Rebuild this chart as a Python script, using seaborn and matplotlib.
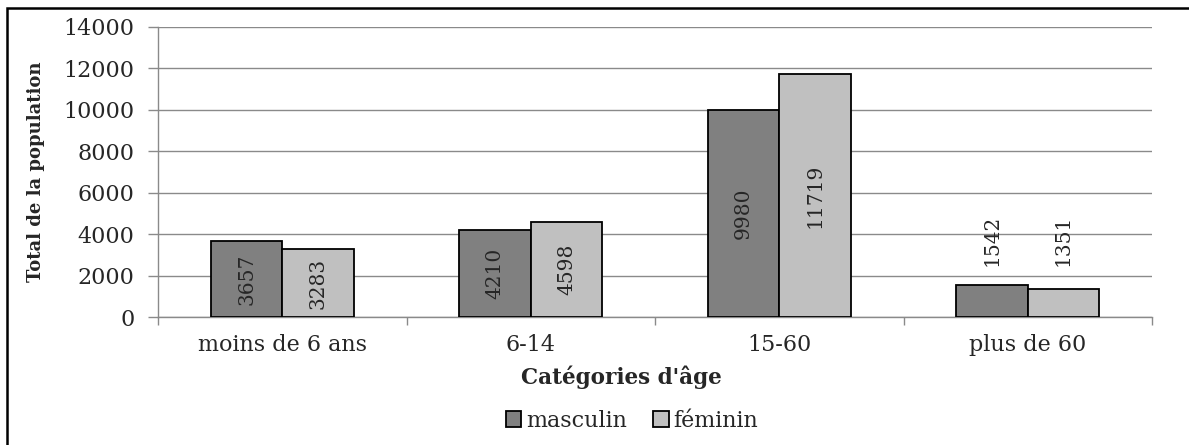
import pandas as pd
import matplotlib.pyplot as plt
import seaborn as sns
from matplotlib.patches import Rectangle, Patch

# Population by age category and sex
categories = ['moins de 6 ans', '6-14', '15-60', 'plus de 60']
masculin = [3657, 4210, 9980, 1542]
feminin = [3283, 4598, 11719, 1351]
sexes = ['masculin', 'féminin']
yticks = [0, 2000, 4000, 6000, 8000, 10000, 12000, 14000]

df = pd.DataFrame({
    'categorie': categories * 2,
    'sexe': [sexes[0]] * len(categories) + [sexes[1]] * len(categories),
    'population': masculin + feminin,
})

sns.set_style('white')
plt.rcParams['font.family'] = ['DejaVu Serif']

colors = {'masculin': '#808080', 'féminin': '#c0c0c0'}
txt = '#262626'

fig = plt.figure(figsize=(11.89, 4.45), dpi=100)
ax = fig.add_axes([158 / 1189, 1 - 317 / 445, (1152 - 158) / 1189, (317 - 27) / 445])

sns.barplot(data=df, x='categorie', y='population', hue='sexe', order=categories,
            hue_order=sexes, palette=colors, width=0.575, edgecolor='black',
            linewidth=1.3, saturation=1, ax=ax, legend=False, zorder=3)

# value labels: inside the bars, except the small last group
for container in ax.containers:
    for i, bar in enumerate(container):
        val = int(round(bar.get_height()))
        xc = bar.get_x() + bar.get_width() / 2
        if i < 3:
            ax.text(xc, val / 2, str(val), rotation=90, ha='center', va='center',
                    fontsize=14.5, color=txt, zorder=4)
        else:
            ax.text(xc, 2450, str(val), rotation=90, ha='center', va='bottom',
                    fontsize=14.5, color=txt, zorder=4)

ax.set_ylim(0, 14000)
ax.set_xlim(-0.5, 3.5)
ax.set_yticks(yticks)
ax.set_yticklabels([str(t) for t in yticks])
ax.yaxis.grid(True, color='#8a8a8a', linewidth=1.0, zorder=0)
ax.set_axisbelow(True)

for s in ['top', 'right']:
    ax.spines[s].set_visible(False)
for s in ['left', 'bottom']:
    ax.spines[s].set_color('#8a8a8a')
    ax.spines[s].set_linewidth(1.0)

ax.tick_params(axis='y', which='major', left=True, length=7, width=1, color='#8a8a8a',
               labelsize=16, pad=10, labelcolor=txt)
ax.tick_params(axis='x', which='major', length=0, labelsize=16, pad=12, labelcolor=txt)
ax.set_xticks([-0.5, 0.5, 1.5, 2.5, 3.5], minor=True)
ax.tick_params(axis='x', which='minor', bottom=True, length=6, width=1, color='#8a8a8a')

ax.set_xlabel('')
ax.set_ylabel('Total de la population', fontsize=13, fontweight='bold', color=txt)
ax.yaxis.set_label_coords((45 - 158) / 994, 0.5)
fig.text(621 / 1189, 1 - 377 / 445, "Catégories d'âge", ha='center', va='center',
         fontsize=15.5, fontweight='bold', color=txt)

handles = [Patch(facecolor=colors[s], edgecolor='black', linewidth=1.3) for s in sexes]
fig.legend(handles, sexes, loc='center', bbox_to_anchor=(632 / 1189, 1 - 421 / 445),
           ncol=2, frameon=False, fontsize=16, handlelength=0.7, handleheight=0.7,
           handletextpad=0.2, columnspacing=1.2, labelcolor=txt)

# outer frame (cut off on the right and bottom)
fig.patches.append(Rectangle((7 / 1189, -0.1), 1.2, 1.1 - 8 / 445, transform=fig.transFigure,
                             fill=False, edgecolor='black', linewidth=1.8))

fig.savefig('out.png', dpi=100)
